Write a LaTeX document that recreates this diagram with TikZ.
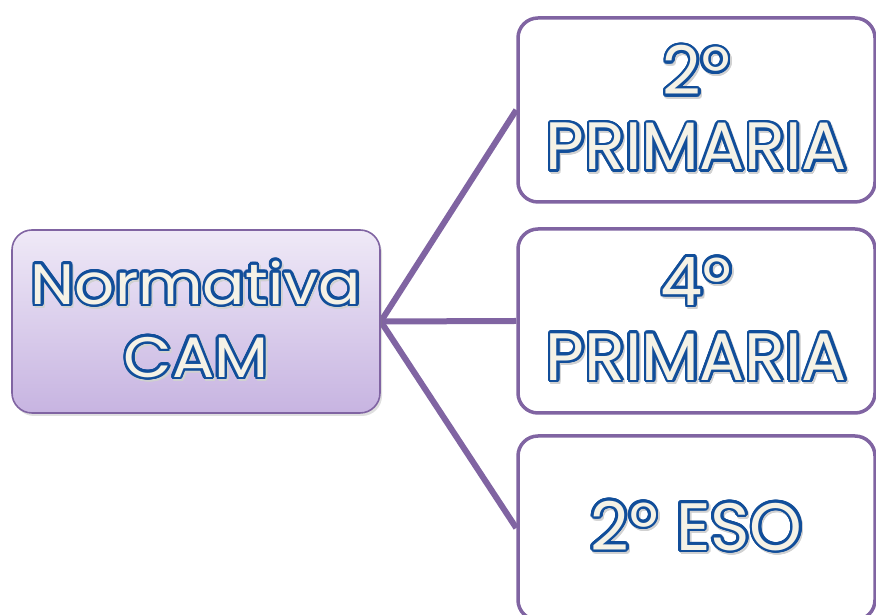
\documentclass[tikz,border=0pt]{standalone}
\usepackage{fontspec}
\setmainfont{Poppins}
\newfontfamily\widefont{Poppins}[FakeStretch=1.1]
\usepackage{contour}
\usetikzlibrary{positioning}
\usetikzlibrary{shadows}
\definecolor{line colour}{HTML}{8064A2}
\definecolor{top colour}{HTML}{EFE9F7}
\definecolor{bottom colour}{HTML}{C7B4E1}
\definecolor{outline colour}{HTML}{114E9A}
\definecolor{letter colour}{HTML}{F5F2E6}
\colorlet{shade colour}{black!18}
\contourlength{2.6pt}
\contournumber{24}
% Outlined letters with a soft shadow behind them
\newcommand{\outlined}[1]{%
    \leavevmode\rlap{\hspace{1.5pt}\raisebox{-2pt}{%
        \color{shade colour}\contour{shade colour}{#1}}}%
    \contour{outline colour}{#1}}
\pgfdeclarelayer{background}
\pgfsetlayers{background,main}
\tikzset{
    % Text style shared by all boxes
    every node/.style={align=center, text=letter colour},
%
    main box/.style={
        draw=line colour, line width=1.6pt, rounded corners=20pt,
        top color=top colour, bottom color=bottom colour,
        minimum width=368pt, minimum height=183pt,
        drop shadow={opacity=0.25, shadow xshift=2pt, shadow yshift=-3pt},
        font=\widefont\fontsize{57}{73}\selectfont},
    level box/.style={
        draw=line colour, line width=3.5pt, rounded corners=20pt, fill=white,
        minimum width=357pt, minimum height=184pt,
        font=\fontsize{67}{75}\selectfont},
%
    link/.style={draw=line colour, line width=6pt},
}
\begin{document}
\begin{tikzpicture}[x=1pt, y=1pt]
\useasboundingbox (0,0) rectangle (876,615);
\clip (0,0) rectangle (876,615);

\path
    (196,293.5) node [main box] (cam) {\outlined{Normativa}\\\outlined{CAM}}
    (696.5,505) node [level box] (prim2) {\outlined{2º}\\\outlined{PRIMARIA}}
    (696.5,294) node [level box] (prim4) {\outlined{4º}\\\outlined{PRIMARIA}}
    (696.5,87) node [level box] (eso2) {\outlined{2º ESO}};

\begin{pgfonlayer}{background}
\draw [link] (cam.east) -- (prim2.west);
\draw [link] (cam.east) -- (prim4.west);
\draw [link] (cam.east) -- (eso2.west);
\end{pgfonlayer}

\end{tikzpicture}
\end{document}
